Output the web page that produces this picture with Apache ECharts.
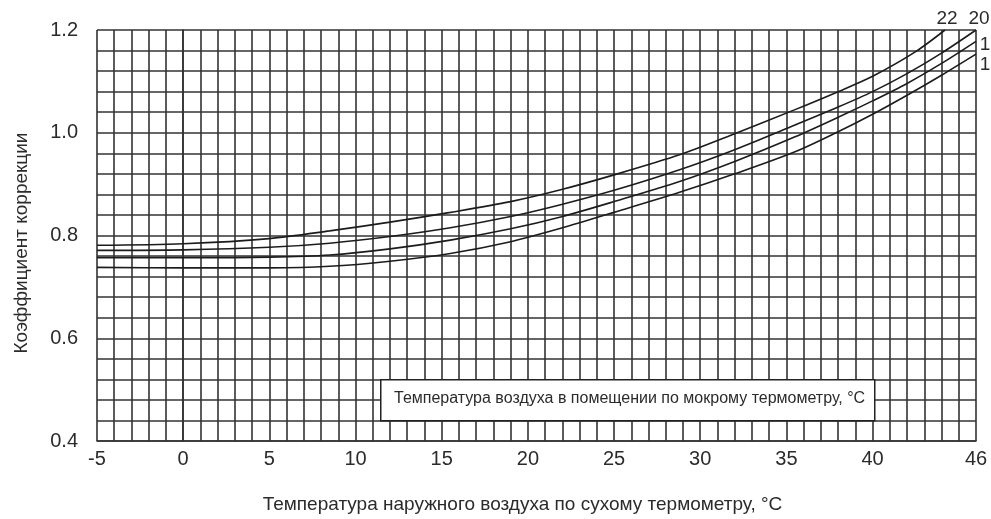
<!DOCTYPE html>
<html>
<head>
<meta charset="utf-8">
<script src="https://cdn.jsdelivr.net/npm/echarts@6/dist/echarts.min.js"></script>
<style>
html,body{margin:0;padding:0;background:#fff;}
#chart{width:991px;height:519px;}
</style>
</head>
<body>
<div id="chart"></div>
<script>
// Data
const xTickLabels = [-5, 0, 5, 10, 15, 20, 25, 30, 35, 40, 46];
const yTickLabels = [0.4, 0.6, 0.8, 1.0, 1.2];
const curveNames = ['22', '20', '18', '16'];
const curveEndTexts = ['22', '20', '1', '1'];

const curve22X = [-5, 0, 5, 8.5, 12, 15.5, 19, 21.9, 25, 28.8, 32, 35.5, 38, 40, 42.5, 44.2];
const curve22Y = [0.781, 0.784, 0.794, 0.809, 0.826, 0.845, 0.866, 0.889, 0.918, 0.957, 0.998, 1.045, 1.080, 1.110, 1.158, 1.200];

const curve20X = [-5, 0, 5, 8.5, 12, 15.5, 19, 21.9, 25, 28.8, 32, 35.5, 38, 40, 42, 44, 46];
const curve20Y = [0.771, 0.772, 0.777, 0.785, 0.798, 0.815, 0.837, 0.860, 0.888, 0.928, 0.967, 1.015, 1.050, 1.080, 1.115, 1.155, 1.200];

const curve18X = [-5, 0, 5, 8.5, 12, 15.5, 19, 21.9, 25, 28.8, 32, 35.5, 38, 40, 42, 44, 46];
const curve18Y = [0.757, 0.757, 0.758, 0.762, 0.774, 0.791, 0.813, 0.836, 0.866, 0.905, 0.944, 0.992, 1.030, 1.062, 1.096, 1.135, 1.178];

const curve16X = [-5, 0, 5, 8.5, 12, 15.5, 19, 21.9, 25, 28.8, 32, 35.5, 38, 40, 42, 44, 46];
const curve16Y = [0.738, 0.737, 0.737, 0.740, 0.750, 0.765, 0.788, 0.814, 0.845, 0.884, 0.920, 0.963, 1.002, 1.036, 1.073, 1.112, 1.153];

const curvesX = [curve22X, curve20X, curve18X, curve16X];
const curvesY = [curve22Y, curve20Y, curve18Y, curve16Y];

const xTitle = 'Температура наружного воздуха по сухому термометру, °C';
const yTitle = 'Коэффициент коррекции';
const boxText = 'Температура воздуха в помещении по мокрому термометру, °C';

const FONT = 'Liberation Sans, Arial, sans-serif';
const INK = '#2b2b2b';
const GRIDC = '#333';

const endLabelOffsets = [[2, -11], [3, -11], [9, 3], [9, 11]];

const chart = echarts.init(document.getElementById('chart'), null, {renderer: 'canvas'});

const series = curvesX.map((xs, i) => ({
  name: curveNames[i],
  type: 'line',
  smooth: 0.3,
  symbol: 'none',
  silent: true,
  z: 5,
  lineStyle: {color: '#1c1c1c', width: 1.6},
  data: xs.map((x, j) => [x, curvesY[i][j]]),
  endLabel: {
    show: true,
    formatter: curveEndTexts[i],
    distance: 0,
    align: 'center',
    verticalAlign: 'middle',
    offset: endLabelOffsets[i],
    color: INK,
    fontFamily: FONT,
    fontSize: 19
  }
}));

const option = {
  animation: false,
  backgroundColor: '#fff',
  grid: {left: 97, right: 15, top: 30, bottom: 76, containLabel: false},
  xAxis: {
    type: 'value',
    min: -5,
    max: 46,
    interval: 1,
    name: xTitle,
    nameLocation: 'middle',
    nameGap: 54,
    nameTextStyle: {color: INK, fontFamily: FONT, fontSize: 19, padding: [0, 28, 0, 0]},
    axisLine: {show: true, lineStyle: {color: GRIDC, width: 1.6}},
    axisTick: {show: false},
    axisLabel: {
      customValues: xTickLabels,
      color: INK,
      fontFamily: FONT,
      fontSize: 20,
      margin: 8,
      formatter: v => String(v)
    },
    splitLine: {show: true, lineStyle: {color: GRIDC, width: 1.6}}
  },
  yAxis: {
    type: 'value',
    min: 0.4,
    max: 1.2,
    interval: 0.04,
    name: yTitle,
    nameLocation: 'middle',
    nameGap: 66,
    nameRotate: 90,
    nameTextStyle: {color: INK, fontFamily: FONT, fontSize: 19, padding: [0, 15, 0, 0]},
    axisLine: {show: true, lineStyle: {color: GRIDC, width: 1.6}},
    axisTick: {show: false},
    axisLabel: {
      customValues: yTickLabels,
      color: INK,
      fontFamily: FONT,
      fontSize: 20,
      margin: 19,
      formatter: v => v.toFixed(1)
    },
    splitLine: {show: true, lineStyle: {color: GRIDC, width: 1.6}}
  },
  graphic: [{
    type: 'rect',
    left: 380,
    top: 379,
    z: 100,
    shape: {x: 0, y: 0, width: 494, height: 41},
    style: {fill: '#fff', stroke: '#222', lineWidth: 1.5}
  }, {
    type: 'text',
    left: 394,
    top: 391,
    z: 101,
    style: {
      text: boxText,
      fill: INK,
      font: '16px ' + FONT
    }
  }],
  series: series
};
chart.setOption(option);
</script>
</body>
</html>
